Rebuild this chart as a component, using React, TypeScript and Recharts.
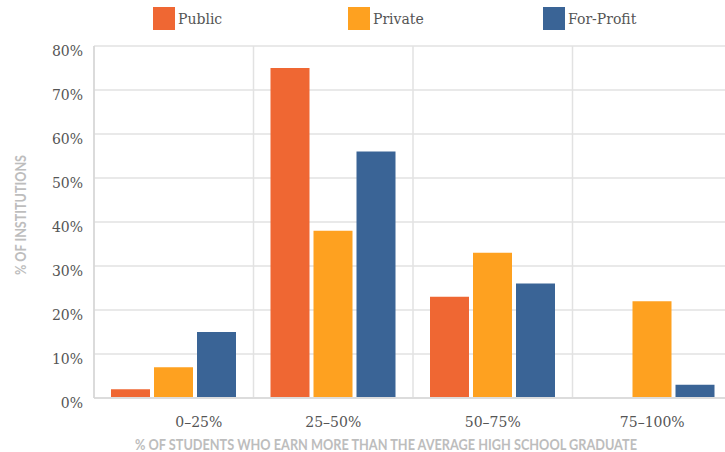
import React from 'react';
import { BarChart, Bar, XAxis, YAxis, CartesianGrid, Legend } from 'recharts';

const categories = ['0–25%', '25–50%', '50–75%', '75–100%'];
const publicValues = [2, 75, 23, 0];
const privateValues = [7, 38, 33, 22];
const forProfitValues = [15, 56, 26, 3];
const yTicks = [0, 10, 20, 30, 40, 50, 60, 70, 80];
const seriesNames = ['Public', 'Private', 'For-Profit'];
const seriesColors = ['#EF6733', '#FEA120', '#3A6496'];
const xTitle = '% OF STUDENTS WHO EARN MORE THAN THE AVERAGE HIGH SCHOOL GRADUATE';
const yTitle = '% OF INSTITUTIONS';

const data = categories.map((c, i) => ({
  name: c,
  Public: publicValues[i],
  Private: privateValues[i],
  'For-Profit': forProfitValues[i],
}));

const SERIF = '"DejaVu Serif", serif';
const SANS = 'Lato, "Open Sans", sans-serif';

const LegendContent = () => (
  <div style={{ position: 'absolute', left: 153, top: 7, display: 'flex' }}>
    {seriesNames.map((n, i) => (
      <div key={n} style={{ width: 195, display: 'flex', alignItems: 'center' }}>
        <div style={{ width: 22, height: 23, background: seriesColors[i], marginRight: 3 }} />
        <span style={{ fontFamily: SERIF, fontSize: 14, color: '#555' }}>{n}</span>
      </div>
    ))}
  </div>
);

const XTick = (props: any) => {
  const { x, y, payload, index } = props;
  const dx = index === 0 ? 25 : 0;
  return (
    <text x={x + dx} y={y + 21} textAnchor="middle" fontFamily={SERIF} fontSize={14} fill="#555">
      {payload.value}
    </text>
  );
};

const YTick = (props: any) => {
  const { y, payload } = props;
  return (
    <text x={83} y={y + 10} textAnchor="end" fontFamily={SERIF} fontSize={14} fill="#555">
      {payload.value + '%'}
    </text>
  );
};

const XTitle = () => (
  <text
    x={386}
    y={449.5}
    textAnchor="middle"
    fontFamily={SANS}
    fontWeight={700}
    fontSize={14.5}
    textLength={502}
    lengthAdjust="spacingAndGlyphs"
    fill="#bdbdbd"
  >
    {xTitle}
  </text>
);

const YTitle = () => (
  <text
    x={25.5}
    y={215}
    transform="rotate(-90 25.5 215)"
    textAnchor="middle"
    fontFamily={SANS}
    fontWeight={700}
    fontSize={14.5}
    textLength={120}
    lengthAdjust="spacingAndGlyphs"
    fill="#bdbdbd"
  >
    {yTitle}
  </text>
);

export default function App() {
  return (
    <div style={{ position: 'absolute', left: 0, top: 0, width: 725, height: 452, overflow: 'hidden', background: '#fff' }}>
      <BarChart
        width={732}
        height={452}
        data={data}
        margin={{ top: 6, right: 0, bottom: 0, left: 0 }}
        barCategoryGap={17}
        barGap={4}
      >
        <Legend verticalAlign="top" height={40} content={<LegendContent />} wrapperStyle={{ top: 0, left: 0, width: 725, height: 40 }} />
        <CartesianGrid
          stroke="#e2e2e2"
          strokeWidth={1.5}
          verticalCoordinatesGenerator={({ offset }: any) =>
            [0, 1, 2, 3, 4].map((i) => offset.left + (i * offset.width) / 4)
          }
        />
        <XAxis
          dataKey="name"
          tick={<XTick />}
          tickLine={false}
          axisLine={{ stroke: '#dcdcdc', strokeWidth: 2 }}
          height={54}
          interval={0}
          label={<XTitle />}
        />
        <YAxis
          domain={[0, 80]}
          ticks={yTicks}
          width={94}
          tick={<YTick />}
          tickLine={false}
          axisLine={{ stroke: '#d6d6d6', strokeWidth: 1.5 }}
          label={<YTitle />}
        />
        {seriesNames.map((n, i) => (
          <Bar key={n} dataKey={n} fill={seriesColors[i]} isAnimationActive={false} />
        ))}
      </BarChart>
    </div>
  );
}
